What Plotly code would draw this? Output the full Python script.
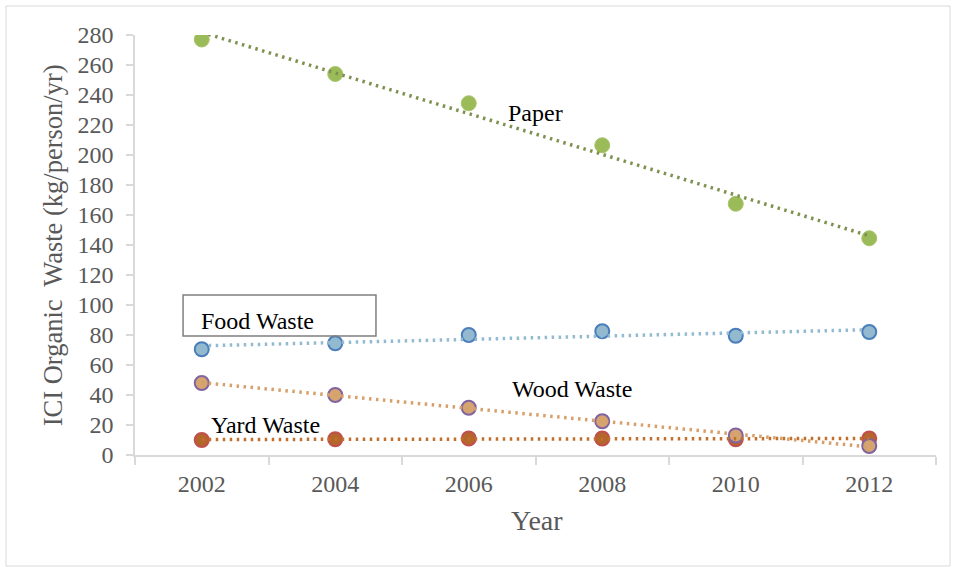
import numpy as np
import plotly.graph_objects as go

# Data: ICI organic waste per capita (kg/person/yr)
years = ["2002", "2004", "2006", "2008", "2010", "2012"]
paper = [277, 254, 234.5, 206.5, 167.5, 144.5]
food_waste = [70.5, 74.5, 80, 82.5, 79.5, 82]
wood_waste = [48, 40, 31.5, 22.5, 13, 6]
yard_waste = [10, 10.5, 11, 11, 10.5, 11]

FONT = "Liberation Serif"
AXIS_GREY = "#d9d9d9"

series = [
    # name, values, marker fill, marker border, trendline colour
    ("Paper", paper, "#9bbb59", "#a8c46c", "#7f9151"),
    ("Food Waste", food_waste, "#93b9cf", "#4a7ebb", "#92bad0"),
    ("Yard Waste", yard_waste, "#b5662a", "#c0504d", "#c0702c"),
    ("Wood Waste", wood_waste, "#d6a46f", "#8064a2", "#d6a06a"),
]

fig = go.Figure()

# Markers
for name, vals, fill, border, _ in series:
    size = 15 if name == "Paper" else 14
    fig.add_trace(go.Scatter(
        x=years, y=vals, mode="markers", name=name,
        marker=dict(size=size, color=fill, line=dict(color=border, width=2 if name != "Paper" else 1)),
        showlegend=False, hoverinfo="x+y+name",
    ))

# Linear trendlines (least-squares fit over the category index)
idx = np.arange(len(years))
for name, vals, _, _, tcol in series:
    slope, intercept = np.polyfit(idx, np.array(vals, dtype=float), 1)
    fit = slope * idx + intercept
    fig.add_trace(go.Scatter(
        x=years, y=fit, mode="lines", name=name + " trend",
        line=dict(color=tcol, width=3.5, dash="2.5px,4.5px"),
        showlegend=False, hoverinfo="skip",
    ))

annotations = [
    dict(x=2.5, y=228, text="Paper", xanchor="center", yanchor="middle"),
    dict(x=-0.017, y=89.5, text="Food Waste", xanchor="left", yanchor="middle"),
    dict(x=2.773, y=44, text="Wood Waste", xanchor="center", yanchor="middle"),
    dict(x=0.481, y=20, text="Yard Waste", xanchor="center", yanchor="middle"),
]
ann = [dict(a, xref="x", yref="y", showarrow=False,
            font=dict(family=FONT, size=24, color="#000000")) for a in annotations]

# Axis titles
ann.append(dict(x=0.502, y=-0.155, xref="paper", yref="paper", text="Year",
                showarrow=False, xanchor="center", yanchor="middle",
                font=dict(family=FONT, size=28, color="#595959")))
ann.append(dict(x=-0.102, y=0.5, xref="paper", yref="paper",
                text="ICI Organic  Waste (kg/person/yr)", textangle=-90,
                showarrow=False, xanchor="center", yanchor="middle",
                font=dict(family=FONT, size=26.5, color="#595959")))

shapes = [
    # label box around "Food Waste"
    dict(type="rect", xref="x", yref="y", x0=-0.14, x1=1.305, y0=79.3, y1=106.7,
         line=dict(color="#7f7f7f", width=1.5), fillcolor="rgba(0,0,0,0)", layer="above"),
    # outer chart border
    dict(type="rect", xref="paper", yref="paper",
         x0=(6 - 135) / 801, x1=(950 - 135) / 801,
         y0=(455 - 566) / 420, y1=(455 - 6) / 420,
         line=dict(color="#d9d9d9", width=1), fillcolor="rgba(0,0,0,0)"),
]

fig.update_layout(
    width=955, height=567,
    margin=dict(l=135, r=19, t=35, b=112),
    paper_bgcolor="white", plot_bgcolor="white",
    font=dict(family=FONT, size=24, color="#595959"),
    annotations=ann, shapes=shapes,
    xaxis=dict(
        type="category", range=[-0.5, 5.5], tickson="boundaries",
        ticks="outside", ticklen=8, tickwidth=1.5, tickcolor=AXIS_GREY,
        ticklabelstandoff=6,
        showline=True, linecolor=AXIS_GREY, linewidth=1.5,
        showgrid=False, zeroline=False,
        tickfont=dict(family=FONT, size=24, color="#595959"),
    ),
    yaxis=dict(
        range=[0, 280], dtick=20, tick0=0,
        ticks="outside", ticklen=7, tickwidth=1.5, tickcolor=AXIS_GREY,
        ticklabelstandoff=8,
        showline=True, linecolor=AXIS_GREY, linewidth=1.5,
        showgrid=False, zeroline=False,
        tickfont=dict(family=FONT, size=24, color="#595959"),
    ),
)

fig.write_html("out.html")
